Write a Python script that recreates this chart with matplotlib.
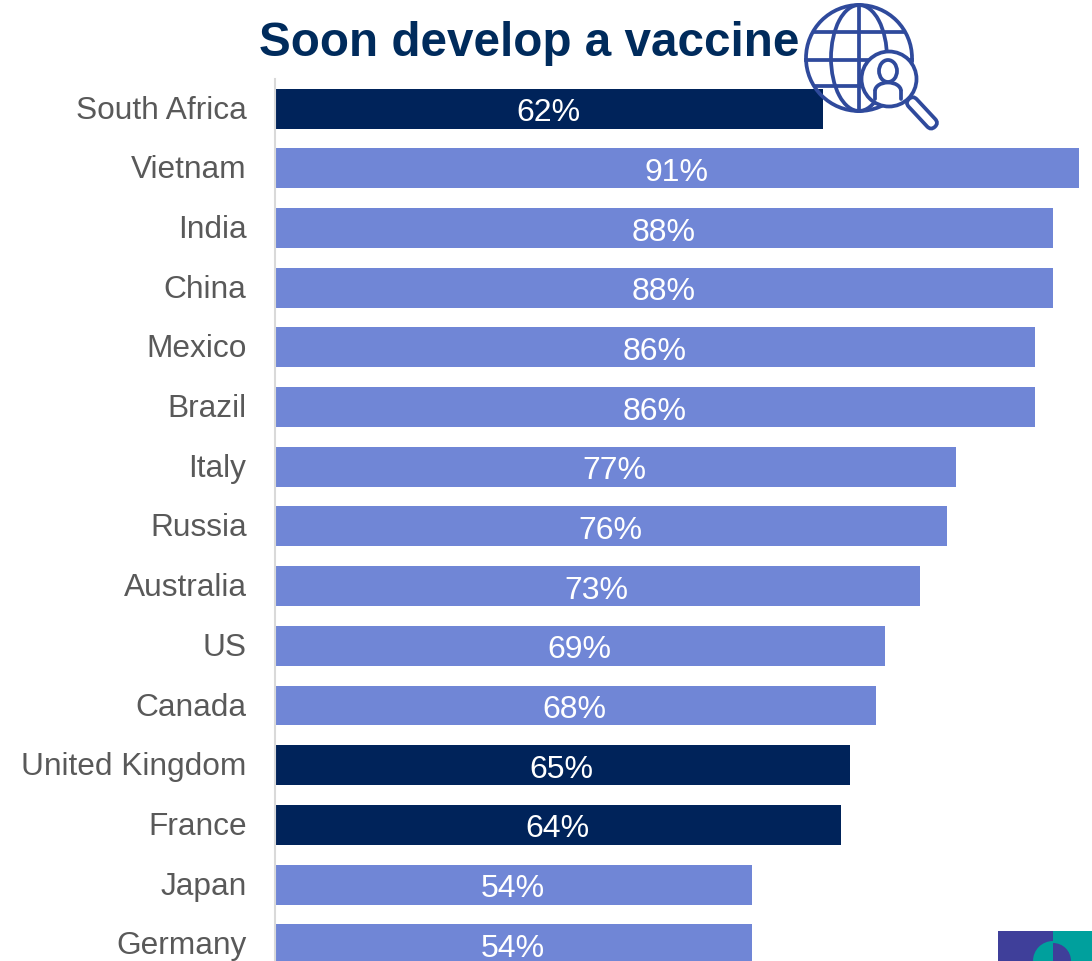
import matplotlib
matplotlib.use("Agg")
import matplotlib.pyplot as plt
from matplotlib.patches import Circle, Ellipse, Rectangle, FancyBboxPatch, Wedge, Arc
from matplotlib.transforms import Affine2D, ScaledTranslation

countries = ["South Africa", "Vietnam", "India", "China", "Mexico", "Brazil", "Italy", "Russia",
             "Australia", "US", "Canada", "United Kingdom", "France", "Japan", "Germany"]
values = [62, 91, 88, 88, 86, 86, 77, 76, 73, 69, 68, 65, 64, 54, 54]
highlighted = ["South Africa", "United Kingdom", "France"]
title = "Soon develop a vaccine"

DARK = "#00235A"
LIGHT = "#7086D6"
TEXT = "#595959"
ICON = "#2F4A9C"

plt.rcParams["font.family"] = ["Liberation Sans", "DejaVu Sans"]
W, H = 1092, 962
fig = plt.figure(figsize=(W / 100, H / 100), dpi=100, facecolor="white")

ax = fig.add_axes([275 / W, 0, (W - 275) / W, (H - 80) / H])
positions = list(range(len(countries)))
colors = [DARK if c in highlighted else LIGHT for c in countries]
ax.barh(positions, values, height=0.67, color=colors, linewidth=0)
ax.set_xlim(0, (W - 275) / 8.84)
ax.set_ylim((H - 109.6) / 59.69, -(109.6 - 80) / 59.69)
ax.set_yticks(positions, countries, fontsize=22.8, color=TEXT)
ax.tick_params(axis="y", length=0, pad=20.5)
up = ScaledTranslation(0, 1.8 / 72, fig.dpi_scale_trans)
for lab in ax.get_yticklabels():
    lab.set_transform(lab.get_transform() + up)
ax.xaxis.set_visible(False)
for s in ["top", "right", "bottom"]:
    ax.spines[s].set_visible(False)
ax.spines["left"].set_color("#D9D9D9")
ax.spines["left"].set_linewidth(1.5)
for p, v in zip(positions, values):
    ax.annotate(f"{v}%", (v / 2, p), xytext=(-0.6, -2.6), textcoords="offset points",
                ha="center", va="center", color="white", fontsize=23)

# overlay in pixel coordinates for title, icon and logo
ov = fig.add_axes([0, 0, 1, 1], facecolor="none")
ov.set_xlim(0, W)
ov.set_ylim(H, 0)
ov.axis("off")
ov.text(529, 44, title, ha="center", va="center", fontsize=34.3, fontweight="bold", color="#002B5C")

lw = 2.7
gc = dict(fill=False, edgecolor=ICON, linewidth=lw)
cx, cy, r = 859, 59, 53
ov.add_patch(Circle((cx, cy), r, **gc))
ov.add_patch(Ellipse((cx, cy), 56, 2 * r, **gc))
ov.plot([cx, cx], [cy - r, cy + r], color=ICON, lw=lw)
ov.plot([815, 903], [33, 33], color=ICON, lw=lw)
ov.plot([806, 912], [61, 61], color=ICON, lw=lw)
ov.plot([816, 870], [87, 87], color=ICON, lw=lw)

# magnifier
mx, my, mr = 889, 80, 27.5
ov.add_patch(Circle((mx, my), mr, facecolor="white", edgecolor=ICON, linewidth=lw, zorder=3))
handle = FancyBboxPatch((0, -5.5), 38, 11, boxstyle="round,pad=0,rounding_size=5.5",
                        facecolor="white", edgecolor=ICON, linewidth=lw, zorder=2,
                        transform=Affine2D().rotate_deg(47).translate(909, 100) + ov.transData)
ov.add_patch(handle)
ov.add_patch(Ellipse((888, 72), 18, 22, fill=False, edgecolor=ICON, linewidth=lw, zorder=4))
ov.plot([875, 875], [100, 92], color=ICON, lw=lw, solid_capstyle="round", zorder=4)
ov.plot([901, 901], [100, 92], color=ICON, lw=lw, solid_capstyle="round", zorder=4)
ov.add_patch(Arc((888, 92), 26, 17, theta1=180, theta2=360, edgecolor=ICON, linewidth=lw, zorder=4))

# corner logo
ov.add_patch(Rectangle((998, 932), 55, 30, facecolor="#3F3F9A", linewidth=0))
ov.add_patch(Rectangle((1053, 932), 39, 30, facecolor="#00A09D", linewidth=0))
ov.add_patch(Wedge((1053, 962), 20, 90, 180, facecolor="#00A09D", linewidth=0, zorder=3))
ov.add_patch(Wedge((1053, 962), 20, 180, 270, facecolor="#00A09D", linewidth=0, zorder=3))
ov.add_patch(Wedge((1053, 962), 18, 270, 360, facecolor="#3F3F9A", linewidth=0, zorder=3))
ov.add_patch(Wedge((1053, 962), 18, 0, 90, facecolor="#3F3F9A", linewidth=0, zorder=3))

fig.savefig("out.png", dpi=100)
